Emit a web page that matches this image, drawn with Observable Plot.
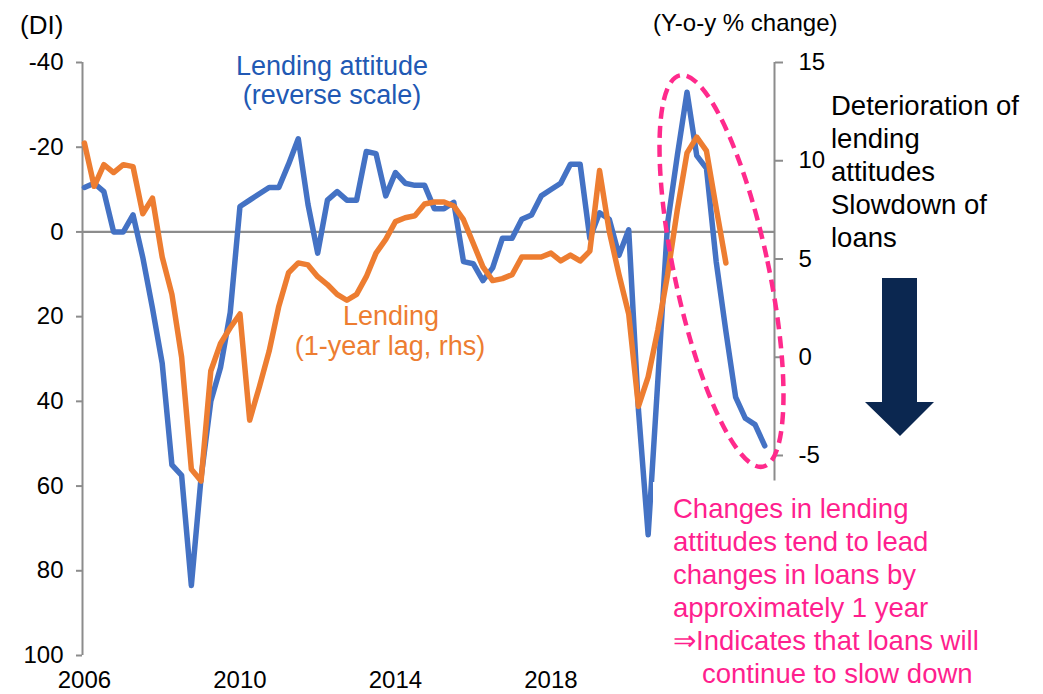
<!DOCTYPE html>
<html>
<head>
<meta charset="utf-8">
<script src="https://cdn.jsdelivr.net/npm/d3@7"></script>
<script src="https://cdn.jsdelivr.net/npm/@observablehq/plot@0.6"></script>
<style>
  html, body { margin: 0; padding: 0; background: #fff; }
  #wrap { position: relative; width: 1043px; height: 694px; font-family: Arial, "Liberation Sans", sans-serif; }
  #wrap > svg { position: absolute; left: 0; top: 0; }
</style>
</head>
<body>
<div id="wrap"></div>
<script>
// ---- Data (quarterly, starting 2006 Q1) ----
const startYear = 2006;
// Lending attitude DI (plotted on reverse scale, left axis)
const lendingAttitude = [
  -10.5, -11.5, -9.5, 0, 0, -4, 6, 18, 31, 55, 57.5, 83.5,
  58, 40, 32, 19, -6, -7.5, -9, -10.5, -10.5, -16, -22, -6.5,
  5, -7.5, -9.5, -7.5, -7.5, -19, -18.5, -8.5, -14, -11.5, -11, -11,
  -5.5, -5.5, -7, 7, 7.5, 11.5, 8.5, 1.5, 1.5, -3, -4, -8.5,
  -10, -11.5, -16, -16, 1.5, -4.5, -3, 5.5, -0.5, 42, 71.5, 35,
  -2, -18, -33, -18, -15, 7, 23.5, 39, 44, 45.5, 50.5
];
// Lending, y-o-y % change, 1-year lag (right axis)
const lendingYoY = [
  10.9, 8.7, 9.8, 9.4, 9.8, 9.7, 7.3, 8.1, 5.1, 3.2, 0.0, -5.7,
  -6.3, -0.7, 0.7, 1.5, 2.2, -3.2, -1.5, 0.3, 2.6, 4.3, 4.8, 4.7,
  4.1, 3.7, 3.2, 2.9, 3.2, 4.1, 5.3, 6.0, 6.9, 7.1, 7.2, 7.8,
  7.9, 7.9, 7.7, 7.0, 5.8, 4.6, 3.9, 4.0, 4.2, 5.1, 5.1, 5.1,
  5.3, 4.9, 5.2, 4.9, 5.4, 9.5, 6.4, 4.2, 2.2, -2.5, -1.0, 1.4,
  4.2, 7.5, 10.4, 11.2, 10.5, 7.6, 4.8
];
const xTicks = [2006, 2010, 2014, 2018];
const leftTicks = [-40, -20, 0, 20, 40, 60, 80, 100];
const rightTicks = [-5, 0, 5, 10, 15];

// ---- Scale configuration ----
const leftDomain = [-40, 100];            // reversed: -40 at top
const rightTop = 15, rightBottom = -5;    // right axis range
const rightBottomOnLeft = 52.78;          // left-axis value aligned with right -5
const rightAxisEnd = -6.3;                // right axis line extends slightly below -5
const toLeft = r => leftDomain[0] + (rightTop - r) * (rightBottomOnLeft - leftDomain[0]) / (rightTop - rightBottom);
const rightLabel = new Map(rightTicks.map(r => [toLeft(r), r]));
const t = i => startYear + i / 4;

const attitudeData = lendingAttitude.map((v, i) => ({x: t(i), y: v}));
const lendingData = lendingYoY.map((v, i) => ({x: t(i), y: toLeft(v)}));

const xMin = 2006 - 0.05, xMax = 2023.75;
const grey = "#8c8c8c";

const chart = Plot.plot({
  width: 1043,
  height: 694,
  marginLeft: 82,
  marginRight: 269,
  marginTop: 62,
  marginBottom: 39,
  style: {fontFamily: "Arial, 'Liberation Sans', sans-serif", fontSize: "24px", color: "#000", background: "transparent", overflow: "visible"},
  x: {domain: [xMin, xMax], label: null},
  y: {domain: leftDomain, reverse: true, label: null},
  marks: [
    Plot.ruleY([0], {stroke: grey, strokeWidth: 2.2}),
    Plot.ruleX([xMin], {stroke: grey, strokeWidth: 2}),
    Plot.ruleX([xMax], {y1: leftDomain[0], y2: toLeft(rightAxisEnd), stroke: grey, strokeWidth: 2}),
    Plot.axisY(leftTicks, {anchor: "left", tickSize: 6, tickPadding: 13, fontSize: 24, stroke: grey, strokeWidth: 2, fill: "#000", tickFormat: d => String(d), label: null}),
    Plot.axisY(rightTicks.map(toLeft), {anchor: "right", tickSize: 8, tickPadding: 16, fontSize: 24, stroke: grey, strokeWidth: 2, fill: "#000", tickFormat: d => String(rightLabel.get(d)), label: null}),
    Plot.axisX(xTicks, {anchor: "bottom", tickSize: 0, tickPadding: 15, fontSize: 24, fill: "#000", tickFormat: d => String(d), label: null}),
    Plot.line(attitudeData, {x: "x", y: "y", stroke: "#4472C4", strokeWidth: 5.5, strokeLinejoin: "round"}),
    Plot.line(lendingData, {x: "x", y: "y", stroke: "#ED7D31", strokeWidth: 5.5, strokeLinejoin: "round"})
  ]
});

const wrap = document.getElementById("wrap");
wrap.appendChild(chart);

// ---- Annotation overlay ----
const ns = "http://www.w3.org/2000/svg";
const ov = d3.select(wrap).append("svg")
  .attr("xmlns", ns)
  .attr("width", 1043).attr("height", 694)
  .style("font-family", "Arial, 'Liberation Sans', sans-serif")
  .style("pointer-events", "none");

// axis unit labels
ov.append("text").attr("x", 20).attr("y", 34).attr("font-size", 26).attr("fill", "#000").text("(DI)");
ov.append("text").attr("x", 653).attr("y", 31).attr("font-size", 24).attr("fill", "#000").text("(Y-o-y % change)");

// series labels
const blueLbl = ov.append("text").attr("font-size", 27).attr("fill", "#2159B4").attr("text-anchor", "middle");
blueLbl.append("tspan").attr("x", 332).attr("y", 75).text("Lending attitude");
blueLbl.append("tspan").attr("x", 332).attr("y", 104).text("(reverse scale)");
const orangeLbl = ov.append("text").attr("font-size", 27).attr("fill", "#ED7D31").attr("text-anchor", "middle");
orangeLbl.append("tspan").attr("x", 391).attr("y", 325).text("Lending");
orangeLbl.append("tspan").attr("x", 390).attr("y", 355).text("(1-year lag, rhs)");

// dashed ellipse
ov.append("ellipse")
  .attr("transform", "translate(721.5,271) rotate(-12)")
  .attr("rx", 47).attr("ry", 200)
  .attr("fill", "none").attr("stroke", "#FF2A8C").attr("stroke-width", 4.5)
  .attr("stroke-dasharray", "12 7");

// right-hand text
const rt = ov.append("text").attr("font-size", 27.5).attr("fill", "#000");
["Deterioration of", "lending", "attitudes", "Slowdown of", "loans"].forEach((s, i) =>
  rt.append("tspan").attr("x", 831).attr("y", 115 + i * 33).text(s));

// arrow
ov.append("polygon")
  .attr("points", "882,278 917,278 917,402 934,402 900,436 865,402 882,402")
  .attr("fill", "#0B2750");

// pink text box (white background)
ov.append("rect").attr("x", 653).attr("y", 482).attr("width", 390).attr("height", 212).attr("fill", "#fff");
const pk = ov.append("text").attr("font-size", 27.5).attr("fill", "#FF1F8E");
[["Changes in lending", 673], ["attitudes tend to lead", 673], ["changes in loans by", 673],
 ["approximately 1 year", 673], ["\u21D2Indicates that loans will", 673], ["continue to slow down", 702]]
  .forEach(([s, x], i) => pk.append("tspan").attr("x", x).attr("y", 518 + i * 33).text(s));
</script>
</body>
</html>
